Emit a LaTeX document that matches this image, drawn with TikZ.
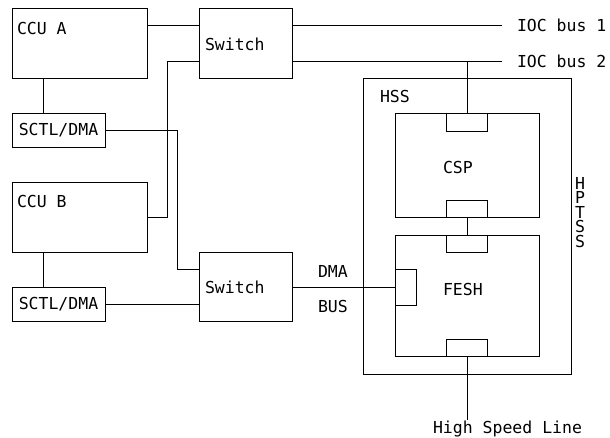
\documentclass[tikz,border=0pt]{standalone}
\usepackage{fontspec}
\setmainfont{DejaVu Sans Mono}
\usetikzlibrary{calc}
\begin{document}
\begin{tikzpicture}[x=1pt,y=-1pt,
  line width=0.8pt,
  box/.style={draw, rectangle, inner sep=0pt, outer sep=0pt},
  txt/.style={inner sep=0pt, outer sep=0pt, font=\fontsize{16.5}{18}\selectfont},
  conn/.style={draw, line width=0.8pt}]
\useasboundingbox (0,0) rectangle (610,437);
% boxes
\node[box, minimum width=135pt, minimum height=70pt] (ccua) at (79.5,43) {};
\node[box, minimum width=93pt, minimum height=70pt] (swa) at (245.5,43) {};
\node[box, minimum width=93pt, minimum height=34pt] (sctla) at (58.5,130) {};
\node[box, minimum width=135pt, minimum height=70pt] (ccub) at (79.5,217) {};
\node[box, minimum width=93pt, minimum height=34pt] (sctlb) at (58.5,304) {};
\node[box, minimum width=93pt, minimum height=69pt] (swb) at (245.5,286.5) {};
\node[box, minimum width=208pt, minimum height=296pt] (hss) at (467,226) {};
\node[box, minimum width=144pt, minimum height=104pt] (csp) at (467,165) {};
\node[box, minimum width=144pt, minimum height=121pt] (fesh) at (467,295.5) {};
\node[box, minimum width=41pt, minimum height=18pt] (cspT) at (467,122) {};
\node[box, minimum width=41pt, minimum height=17pt] (cspB) at (467,208.5) {};
\node[box, minimum width=41pt, minimum height=17pt] (feshT) at (467,243.5) {};
\node[box, minimum width=41pt, minimum height=17pt] (feshB) at (467,347.5) {};
\node[box, minimum width=21pt, minimum height=36pt] (feshL) at (405.5,287) {};
% texts
\node[txt, anchor=base west] (tccua) at (17,34) {CCU A};
\node[txt, anchor=base west] (tccub) at (17,207) {CCU B};
\node[txt, anchor=base west] (tswa) at (205,50) {Switch};
\node[txt, anchor=base west] (tswb) at (205,293) {Switch};
\node[txt] (tsctla) at (58.5,130) {SCTL/DMA};
\node[txt] (tsctlb) at (58.5,304) {SCTL/DMA};
\node[txt, anchor=base west] (tbus1) at (517,31) {IOC bus 1};
\node[txt, anchor=base west] (tbus2) at (517,67) {IOC bus 2};
\node[txt, anchor=base west] (thss) at (380,102) {HSS};
\node[txt, anchor=base west] (tcsp) at (443,173) {CSP};
\node[txt, anchor=base west] (tfesh) at (443,295) {FESH};
\node[txt, anchor=base west] (tdma) at (318,277) {DMA};
\node[txt, anchor=base west] (tbusd) at (318,312) {BUS};
\node[txt, anchor=base west] (thsl) at (433,433) {High Speed Line};
\node[txt, anchor=north, align=center, font=\fontsize{16.5}{14.5}\selectfont] (thptss) at (580,177) {H\\P\\T\\S\\S};
% coordinates
\coordinate (bus1) at (502,25);
\coordinate (bus2) at (502,61);
\coordinate (hsl) at (467,420);
% connectors
\draw[conn] ($(ccua.north east)+(0,17)$) -- ($(swa.north west)+(0,17)$);
\draw[conn] ($(swa.north east)+(0,17)$) -- (bus1);
\draw[conn] ($(swa.north east)+(0,53)$) -- (bus2);
\draw[conn] (cspT.north |- bus2) -- (cspT.north);
\draw[conn] ($(swa.north west)+(0,53)$) -- ++(-32,0) |- (ccub.east);
\draw[conn] ([xshift=31pt]ccua.south west) -- ([xshift=31pt]sctla.north west);
\draw[conn] ([xshift=31pt]ccub.south west) -- ([xshift=31pt]sctlb.north west);
\draw[conn] (sctla.east) -- ++(72,0) |- ($(swb.north west)+(0,17)$);
\draw[conn] (sctlb.east) -- (sctlb.east -| swb.west);
\draw[conn] (feshL.west -| swb.east) -- (feshL.west);
\draw[conn] (cspB.south) -- (feshT.north);
\draw[conn] (feshB.south) -- (hsl);
\end{tikzpicture}
\end{document}
